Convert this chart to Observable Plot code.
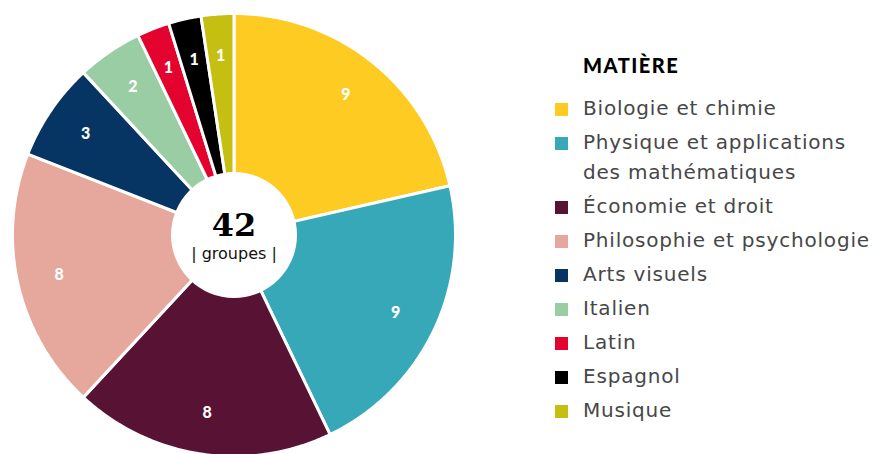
<!DOCTYPE html>
<html>
<head>
<meta charset="utf-8">
<script src="https://cdn.jsdelivr.net/npm/d3@7"></script>
<script src="https://cdn.jsdelivr.net/npm/@observablehq/plot@0.6"></script>
<style>
  html, body { margin: 0; padding: 0; background: #fff; }
  #wrap { position: relative; width: 881px; height: 454px; overflow: hidden; }
  #chart { position: absolute; left: 0; top: 0; }
  #legend { position: absolute; left: 555px; top: 51px; font-family: "DejaVu Sans", sans-serif; color: #474747; }
  #legend .title { font-family: Lato, "Noto Sans", sans-serif; font-weight: 900; font-size: 20px; color: #000; letter-spacing: 1.5px; margin-left: 28px; line-height: 28px; margin-bottom: 14px; }
  #legend .row { display: flex; align-items: flex-start; margin-bottom: 4px; }
  #legend .sw { width: 13px; height: 13px; flex: none; margin-top: 10px; margin-right: 15px; }
  #legend .lab { font-size: 20px; line-height: 30px; width: 298px; font-weight: 400; letter-spacing: 0.8px; }
</style>
</head>
<body>
<div id="wrap">
  <div id="chart"></div>
  <div id="legend"></div>
</div>
<script>
// Data
const categories = ["Biologie et chimie", "Physique et applications des mathématiques", "Économie et droit", "Philosophie et psychologie", "Arts visuels", "Italien", "Latin", "Espagnol", "Musique"];
const values = [9, 9, 8, 8, 3, 2, 1, 1, 1];
const colors = ["#FDCB21", "#37A8B8", "#581234", "#E6A79D", "#073563", "#9ACDA4", "#E4032E", "#000000", "#C5BF12"];
const totalLabel = "42";
const totalUnit = "| groupes |";
const legendTitle = "MATIÈRE";

const table = categories.map((name, i) => ({name, value: values[i]}));
const arcs = d3.pie().sort(null).value(d => d.value).startAngle(0).endAngle(2 * Math.PI)(table);

// polygon vertices for each slice (unit circle)
const pts = [];
for (const a of arcs) {
  const n = Math.max(4, Math.ceil((a.endAngle - a.startAngle) / 0.01));
  pts.push({name: a.data.name, x: 0, y: 0});
  for (let k = 0; k <= n; k++) {
    const t = a.startAngle + (a.endAngle - a.startAngle) * k / n;
    pts.push({name: a.data.name, x: Math.sin(t), y: Math.cos(t)});
  }
  pts.push({name: a.data.name, x: 0, y: 0});
}
const labR = 0.81;
const labels = arcs.map(a => {
  const m = (a.startAngle + a.endAngle) / 2;
  return {name: a.data.name, value: a.data.value, x: labR * Math.sin(m), y: labR * Math.cos(m)};
});

const plot = Plot.plot({
  width: 470,
  height: 454,
  margin: 0,
  x: {domain: [-1, 1], range: [12, 455], axis: null},
  y: {domain: [-1, 1], range: [456, 13], axis: null},
  color: {domain: categories, range: colors},
  style: {background: "white", overflow: "visible"},
  marks: [
    Plot.line(pts, {x: "x", y: "y", z: "name", fill: "name", stroke: "white", strokeWidth: 3, strokeLinejoin: "round", curve: "linear"}),
    Plot.dot([{x: 0, y: 0}], {x: "x", y: "y", r: 63, fill: "white", stroke: "none"}),
    Plot.text(labels, {x: "x", y: "y", text: d => String(d.value), fill: "white", fontSize: 16, fontWeight: 900, fontFamily: "Lato, 'Noto Sans', sans-serif"}),
    Plot.text([{x: 0, y: 0}], {x: "x", y: "y", text: () => totalLabel, dy: -9, fontSize: 32, fontWeight: "bold", fontFamily: "'DejaVu Serif', serif", fill: "#000"}),
    Plot.text([{x: 0, y: 0}], {x: "x", y: "y", text: () => totalUnit, dy: 19, fontSize: 16, fontFamily: "'DejaVu Sans', sans-serif", fill: "#111"})
  ]
});
document.getElementById("chart").appendChild(plot);

// Legend
const leg = d3.select("#legend");
leg.append("div").attr("class", "title").text(legendTitle);
categories.forEach((c, i) => {
  const row = leg.append("div").attr("class", "row");
  row.append("div").attr("class", "sw").style("background", colors[i]);
  row.append("div").attr("class", "lab").text(c);
});
</script>
</body>
</html>
